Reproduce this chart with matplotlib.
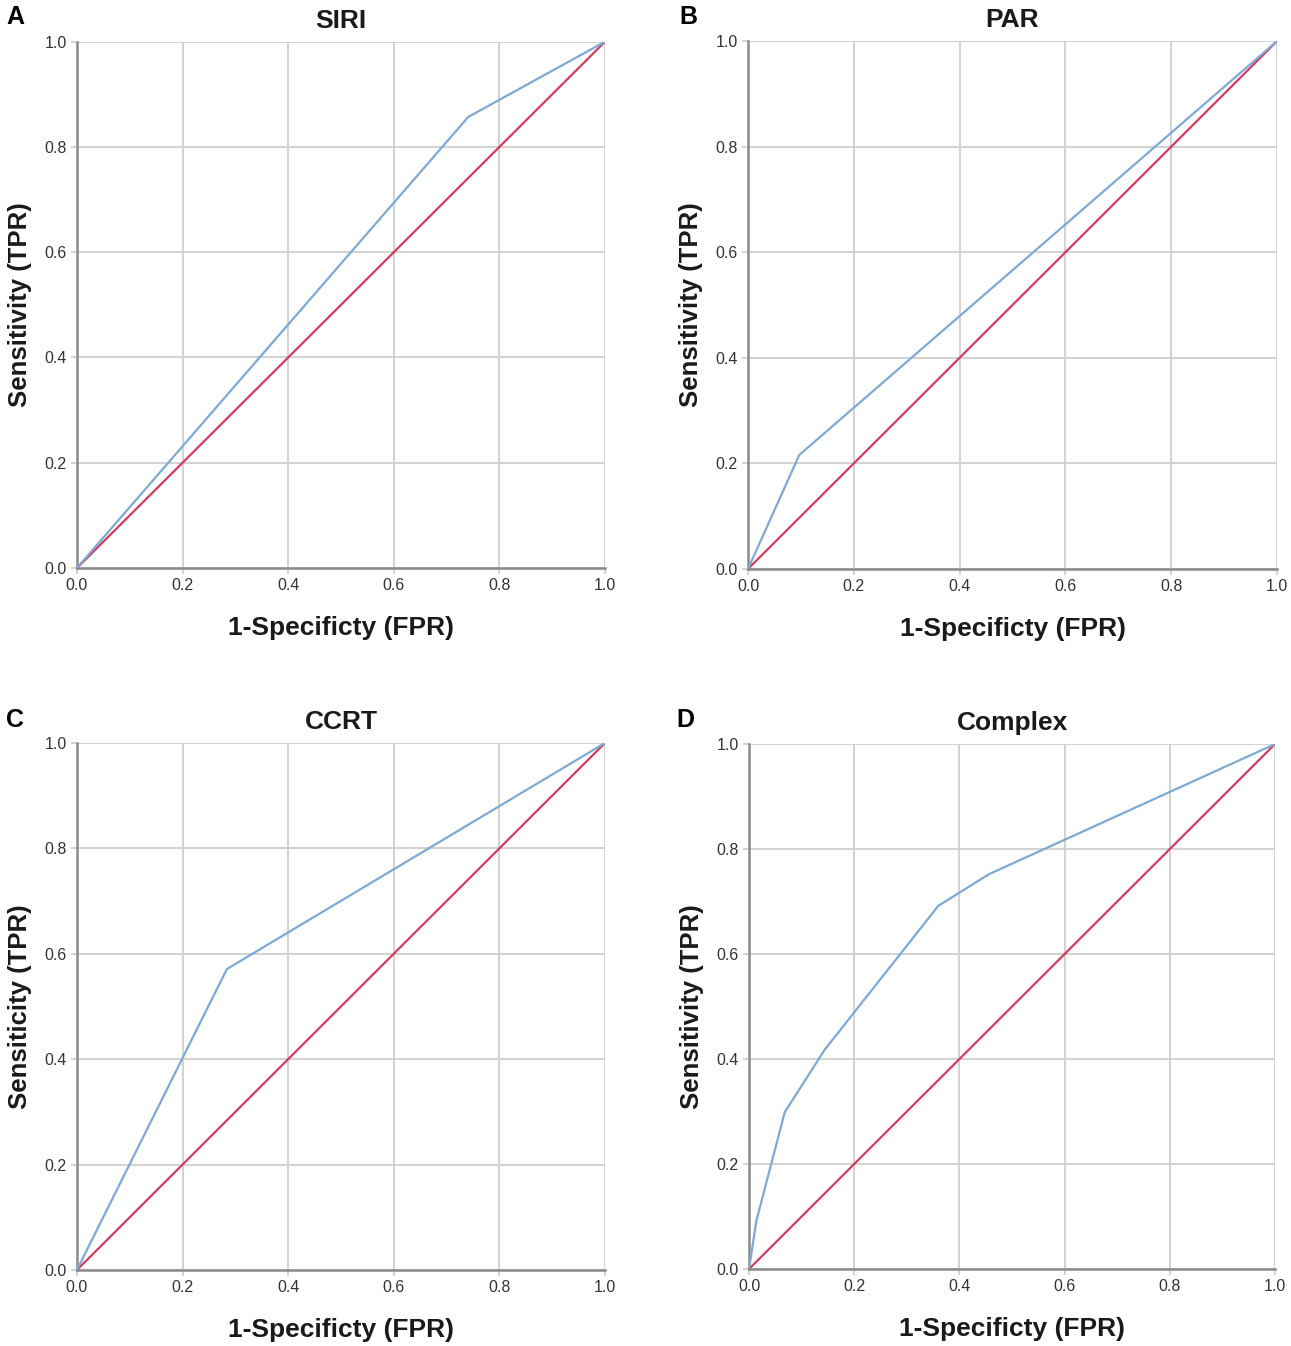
import matplotlib.pyplot as plt

plt.rcParams['font.family'] = ['Liberation Sans', 'DejaVu Sans']

# ROC curve vertices
siri_fpr = [0.0, 0.741, 1.0]
siri_tpr = [0.0, 0.857, 1.0]

par_fpr = [0.0, 0.097, 1.0]
par_tpr = [0.0, 0.216, 1.0]

ccrt_fpr = [0.0, 0.284, 1.0]
ccrt_tpr = [0.0, 0.571, 1.0]

complex_fpr = [0.0, 0.014, 0.068, 0.144, 0.2, 0.36, 0.456, 1.0]
complex_tpr = [0.0, 0.092, 0.299, 0.418, 0.489, 0.692, 0.752, 1.0]

ref_line = [0.0, 1.0]
ticks = [0.0, 0.2, 0.4, 0.6, 0.8, 1.0]
tick_labels = ['0.0', '0.2', '0.4', '0.6', '0.8', '1.0']

# letter, title, x, y, y label, axes rect, letter position (fig fraction)
panels = [
    ('A', 'SIRI', siri_fpr, siri_tpr, 'Sensitivity (TPR)',
     [0.0596, 0.578, 0.409, 0.391], (0.005, 0.987)),
    ('B', 'PAR', par_fpr, par_tpr, 'Sensitivity (TPR)',
     [0.5794, 0.5773, 0.4098, 0.3922], (0.526, 0.987)),
    ('C', 'CCRT', ccrt_fpr, ccrt_tpr, 'Sensiticity (TPR)',
     [0.0596, 0.0565, 0.409, 0.3915], (0.005, 0.465)),
    ('D', 'Complex', complex_fpr, complex_tpr, 'Sensitivity (TPR)',
     [0.5802, 0.0572, 0.4074, 0.390], (0.524, 0.465)),
]

blue = '#7ea9d4'
red = '#d23c5f'
grid_c = '#cfcfcf'

fig = plt.figure(figsize=(12.91, 13.46), dpi=100)

for letter, title, fpr, tpr, ylab, pos, lpos in panels:
    ax = fig.add_axes(pos)
    ax.plot(ref_line, ref_line, color=red, lw=1.6, zorder=3)
    ax.plot(fpr, tpr, color=blue, lw=1.6, zorder=4)
    ax.set_xlim(0, 1)
    ax.set_ylim(0, 1)
    ax.set_xticks(ticks)
    ax.set_yticks(ticks)
    ax.set_xticklabels(tick_labels)
    ax.set_yticklabels(tick_labels)
    ax.grid(True, color=grid_c, lw=1.3)
    ax.set_axisbelow(True)
    for s in ['top', 'right']:
        ax.spines[s].set_visible(False)
    for s in ['left', 'bottom']:
        ax.spines[s].set_color('#8a8a8a')
        ax.spines[s].set_linewidth(1.8)
    ax.tick_params(axis='both', colors=grid_c, length=4, width=1.3,
                   labelsize=11.5, labelcolor='#333333')
    ax.set_xlabel('1-Specificty (FPR)', fontsize=19, fontweight='bold',
                  color='#1a1a1a', labelpad=16)
    ax.set_ylabel(ylab, fontsize=18.5, fontweight='bold', color='#1a1a1a',
                  labelpad=9)
    ax.set_title(title, fontsize=19, fontweight='bold', color='#1a1a1a', pad=10)
    fig.text(lpos[0], lpos[1], letter, fontsize=18, fontweight='bold',
             va='center', ha='left')

fig.savefig('out.png', dpi=100)
